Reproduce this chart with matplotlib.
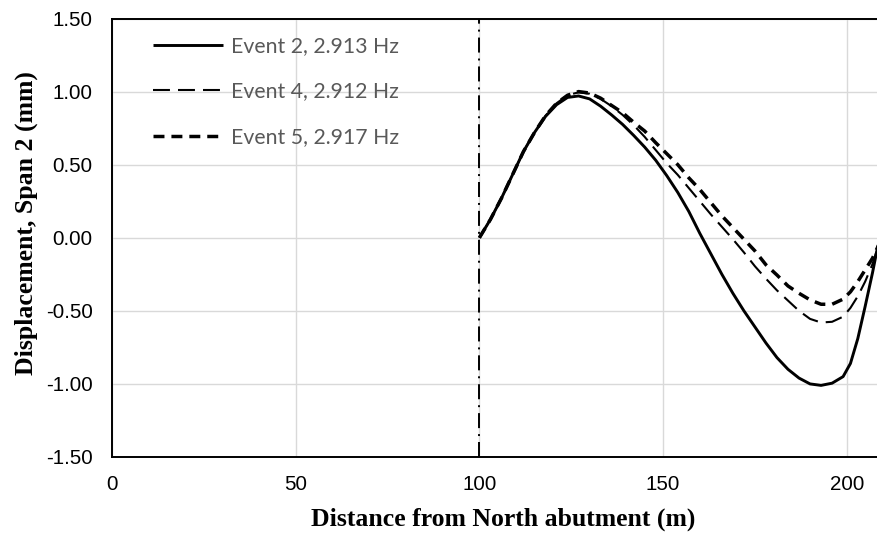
import matplotlib
matplotlib.use("Agg")
import matplotlib.pyplot as plt

plt.rcParams['lines.scale_dashes'] = False

# ---- data ----
distance = [100, 103, 106, 109, 112, 115, 118, 121, 124, 127, 130, 133, 136, 139,
            142, 145, 148, 151, 154, 157, 160, 163, 166, 169, 172, 175, 178, 181,
            184, 187, 190, 193, 196, 199, 201, 203, 205, 207, 208.5]

event2 = [0.00, 0.125, 0.27, 0.43, 0.59, 0.72, 0.83, 0.91, 0.96, 0.97, 0.95, 0.90,
          0.84, 0.775, 0.70, 0.62, 0.53, 0.425, 0.31, 0.18, 0.03, -0.11, -0.25,
          -0.38, -0.50, -0.61, -0.72, -0.82, -0.90, -0.96, -1.00, -1.01, -0.995,
          -0.95, -0.86, -0.69, -0.47, -0.24, -0.05]

event4 = [0.00, 0.125, 0.27, 0.43, 0.59, 0.72, 0.835, 0.92, 0.975, 0.995, 0.985,
          0.95, 0.90, 0.84, 0.77, 0.69, 0.60, 0.51, 0.43, 0.34, 0.25, 0.16, 0.075,
          -0.01, -0.10, -0.195, -0.28, -0.36, -0.43, -0.50, -0.555, -0.58, -0.575,
          -0.54, -0.48, -0.40, -0.30, -0.18, -0.06]

event5 = [0.00, 0.125, 0.27, 0.43, 0.59, 0.72, 0.835, 0.92, 0.975, 1.00, 0.99,
          0.955, 0.905, 0.855, 0.79, 0.73, 0.65, 0.575, 0.50, 0.41, 0.33, 0.24, 0.15,
          0.07, -0.01, -0.09, -0.185, -0.255, -0.33, -0.38, -0.425, -0.455, -0.455,
          -0.42, -0.37, -0.30, -0.22, -0.14, -0.06]

labels = ["Event 2, 2.913 Hz", "Event 4, 2.912 Hz", "Event 5, 2.917 Hz"]
span_boundary = 100
x_ticks = [0, 50, 100, 150, 200]
y_ticks = [-1.5, -1.0, -0.5, 0.0, 0.5, 1.0, 1.5]

# ---- figure ----
W, H = 878, 536
L, T, B = 112, 18.5, 457
fig = plt.figure(figsize=(W / 100, H / 100), dpi=100)
ax = fig.add_axes([L / W, 1 - B / H, (W - L) / W, (B - T) / H])

ax.plot(distance, event2, color='black', lw=2.1, solid_capstyle='butt',
        solid_joinstyle='round', label=labels[0], zorder=5)
ax.plot(distance, event4, color='black', lw=1.5,
        linestyle=(0, (12.2, 5.8)), label=labels[1], zorder=4)
ax.plot(distance, event5, color='black', lw=2.5,
        linestyle=(0, (7.9, 5.0)), label=labels[2], zorder=4)

ax.axvline(span_boundary, color='black', lw=1.4,
           linestyle=(0, (10.8, 4.3, 1.4, 4.3)), zorder=3)

ax.set_xlim(0, 208.5)
ax.set_ylim(-1.5, 1.5)
ax.set_xticks(x_ticks)
ax.set_yticks(y_ticks)
ax.set_xticklabels([str(v) for v in x_ticks])
ax.set_yticklabels([f"{v:.2f}" for v in y_ticks])
ax.tick_params(length=0, labelsize=14.8, colors='black')
ax.tick_params(axis='y', pad=14)
ax.tick_params(axis='x', pad=13)
for lab in ax.get_xticklabels() + ax.get_yticklabels():
    lab.set_fontfamily('Liberation Sans')

ax.grid(True, color='#d9d9d9', lw=1.0, zorder=0)
ax.set_axisbelow(True)

for side in ['left', 'bottom', 'top']:
    ax.spines[side].set_color('black')
    ax.spines[side].set_linewidth(1.4)
ax.spines['right'].set_visible(False)

ax.set_xlabel("Distance from North abutment (m)", fontfamily='Liberation Serif',
              fontweight='bold', fontsize=18.5)
ax.set_ylabel("Displacement, Span 2 (mm)", fontfamily='Liberation Serif',
              fontweight='bold', fontsize=18.5)
ax.xaxis.set_label_coords((503 - L) / (W - L), -(508 - B) / (B - T))
ax.yaxis.set_label_coords(-(L - 38) / (W - L), (B - 223) / (B - T))

leg = ax.legend(loc='upper left', bbox_to_anchor=(153 / W, 1 - 36 / H),
                bbox_transform=fig.transFigure, frameon=False, borderpad=0,
                borderaxespad=0, handlelength=3.3, handletextpad=0.38,
                labelspacing=1.2, prop={'family': 'Lato', 'size': 15.3})
for t in leg.get_texts():
    t.set_color('#595959')

fig.savefig("out.png", dpi=100)
